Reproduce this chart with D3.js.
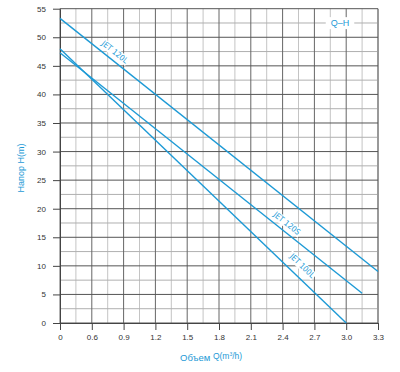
<!DOCTYPE html>
<html>
<head>
<meta charset="utf-8">
<script src="https://cdn.jsdelivr.net/npm/d3@7"></script>
<style>
  body { margin: 0; background: #fff; }
  text { font-family: "Liberation Sans", Arial, sans-serif; }
</style>
</head>
<body>
<svg id="chart" width="400" height="372"></svg>
<script>
// tick labels on the flow axis (evenly spaced, 0.3 step missing)
const qTicks = [0, 0.6, 0.9, 1.2, 1.5, 1.8, 2.1, 2.4, 2.7, 3.0, 3.3];
const hTicks = [0, 5, 10, 15, 20, 25, 30, 35, 40, 45, 50, 55];

// pump curves, Q (m3/h) -> H (m)
const jet120L = [{ q: 0, h: 53.3 }, { q: 3.3, h: 9 }];
const jet120S = [{ q: 0, h: 47.3 }, { q: 3.15, h: 5.2 }];
const jet100L = [{ q: 0, h: 48 }, { q: 3.0, h: 0 }];

const series = [
  { name: "JET 120L", data: jet120L, at: 0.157, off: 8 },
  { name: "JET 120S", data: jet120S, at: 0.735, off: 8 },
  { name: "JET 100L", data: jet100L, at: 0.82, off: 11 },
];

const blue = "#1d9ad6";
const width = 400;
const height = 372;
const margin = { top: 8.7, right: 22, bottom: 49, left: 60 };

const svg = d3.select("#chart");

// labels sit at even spacing, so map through the tick index
const xi = d3.scaleLinear()
  .domain([0, qTicks.length - 1])
  .range([margin.left, width - margin.right]);
const x = d3.scaleLinear()
  .domain(qTicks)
  .range(qTicks.map((d, i) => xi(i)));
const y = d3.scaleLinear()
  .domain([0, 55])
  .range([height - margin.bottom, margin.top]);

// grid
const grid = svg.append("g");
d3.range(0, qTicks.length - 1).forEach((i) => {
  grid.append("line")
    .attr("x1", xi(i + 0.5)).attr("x2", xi(i + 0.5))
    .attr("y1", y(0)).attr("y2", y(55))
    .attr("stroke", "#c4c4c4");
});
d3.range(2.5, 55, 5).forEach((v) => {
  grid.append("line")
    .attr("x1", x(0)).attr("x2", x(3.3))
    .attr("y1", y(v)).attr("y2", y(v))
    .attr("stroke", "#b0b0b0");
});
qTicks.forEach((q) => {
  grid.append("line")
    .attr("x1", x(q)).attr("x2", x(q))
    .attr("y1", y(0)).attr("y2", y(55))
    .attr("stroke", q === 3.3 ? "#999" : "#666")
    .attr("stroke-width", q === 3.3 ? 2 : 1);
});
hTicks.forEach((v) => {
  grid.append("line")
    .attr("x1", x(0)).attr("x2", x(3.3))
    .attr("y1", y(v)).attr("y2", y(v))
    .attr("stroke", "#555");
});

// axes
const yAxis = svg.append("g")
  .attr("transform", `translate(${margin.left},0)`)
  .call(d3.axisLeft(y).tickValues(hTicks).tickSize(7).tickPadding(7).tickSizeOuter(0));
const xAxis = svg.append("g")
  .attr("transform", `translate(0,${y(0)})`)
  .call(d3.axisBottom(x).tickValues(qTicks)
    .tickFormat((d) => (d === 0 ? "0" : d.toFixed(1)))
    .tickSize(7).tickPadding(4).tickSizeOuter(0));
[yAxis, xAxis].forEach((g) => {
  g.select(".domain").attr("stroke", "#444");
  g.selectAll(".tick line").attr("stroke", "#444");
  g.selectAll(".tick text")
    .attr("fill", "#333")
    .style("font-size", "8px");
});

// curves
const line = d3.line()
  .x((d) => x(d.q))
  .y((d) => y(d.h));

series.forEach((s) => {
  svg.append("path")
    .datum(s.data)
    .attr("fill", "none")
    .attr("stroke", blue)
    .attr("stroke-width", 1.4)
    .attr("d", line);
});

// labels along the curves
series.forEach((s) => {
  const a = s.data[0];
  const b = s.data[s.data.length - 1];
  const x0 = x(a.q), y0 = y(a.h), x1 = x(b.q), y1 = y(b.h);
  const ang = Math.atan2(y1 - y0, x1 - x0);
  const px = x0 + (x1 - x0) * s.at + Math.sin(ang) * s.off;
  const py = y0 + (y1 - y0) * s.at - Math.cos(ang) * s.off;
  const g = svg.append("g")
    .attr("transform", `translate(${px},${py}) rotate(${(ang * 180) / Math.PI})`);
  const t = g.append("text")
    .attr("text-anchor", "middle")
    .attr("dy", "0.35em")
    .attr("fill", blue)
    .style("font-size", "8px")
    .style("font-family", "'DejaVu Sans Condensed', 'Liberation Sans Narrow', sans-serif")
    .text(s.name);
  const bb = t.node().getBBox();
  g.insert("rect", "text")
    .attr("x", bb.x - 1).attr("y", bb.y)
    .attr("width", bb.width + 2).attr("height", bb.height)
    .attr("fill", "#fff");
});

// Q-H tag
const tag = svg.append("g").attr("transform", `translate(340,${y(52.5)})`);
const tagText = tag.append("text")
  .attr("text-anchor", "middle")
  .attr("dy", "0.35em")
  .attr("fill", blue)
  .style("font-size", "9px")
  .text("Q–H");
const tb = tagText.node().getBBox();
tag.insert("rect", "text")
  .attr("x", tb.x - 5).attr("y", tb.y - 1)
  .attr("width", tb.width + 10).attr("height", tb.height + 2)
  .attr("fill", "#fff");

// axis titles
svg.append("text")
  .attr("transform", `translate(24,168) rotate(-90)`)
  .attr("text-anchor", "middle")
  .attr("fill", blue)
  .style("font-size", "9px")
  .text("Напор H(m)");

const xt = svg.append("text")
  .attr("x", 180)
  .attr("y", 361)
  .attr("fill", blue)
  .style("font-size", "9.5px");
xt.append("tspan").text("Объем ");
xt.append("tspan").attr("dy", -2).style("font-size", "8.5px").text("Q(m");
xt.append("tspan").attr("dy", -3).style("font-size", "5px").text("3");
xt.append("tspan").attr("dy", 3).style("font-size", "8.5px").text("/h)");
</script>
</body>
</html>
